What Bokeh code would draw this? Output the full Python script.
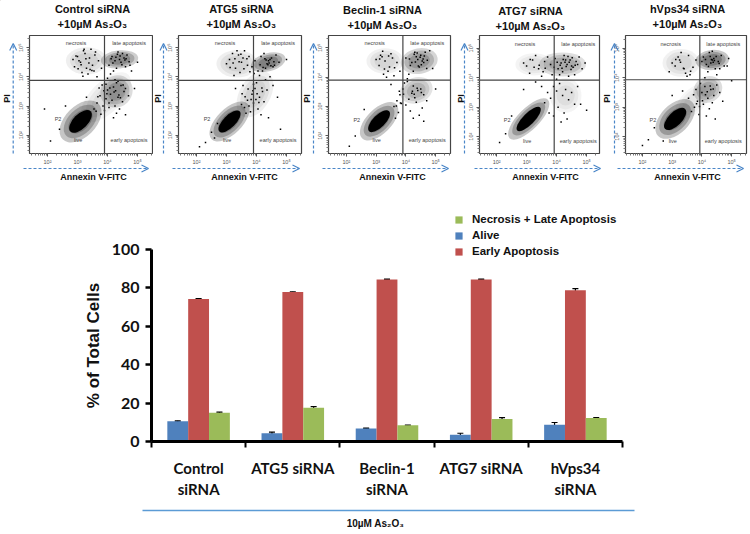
from bokeh.plotting import figure
from bokeh.layouts import row, column
from bokeh.models import (Label, Arrow, OpenHead, FixedTicker, Span, Range1d, ColumnDataSource,
                          Whisker, TeeHead, Legend, LegendItem)
from bokeh.embed import file_html
from bokeh.resources import INLINE
import math

# ---- bar chart data
groups = ["Control\nsiRNA", "ATG5 siRNA", "Beclin-1\nsiRNA", "ATG7 siRNA", "hVps34\nsiRNA"]
alive = [10.5, 4.3, 6.8, 3.5, 8.7]
early = [74.2, 77.8, 84.4, 84.4, 78.8]
necrosis = [15.0, 17.6, 8.4, 11.7, 12.2]
alive_err = [0.3, 0.6, 0.2, 0.8, 1.2]
early_err = [0.2, 0.2, 0.2, 0.2, 0.8]
necrosis_err = [0.3, 0.6, 0.2, 0.7, 0.3]
y_ticks = [0, 20, 40, 60, 80, 100]

# ---- flow panels: titles, dots read by eye (log10 units)
titles = ["Control siRNA", "ATG5 siRNA", "Beclin-1 siRNA", "ATG7 siRNA", "hVps34 siRNA"]
p1_x = [3.0,3.1,3.2,3.3,3.4,3.5,3.15,3.25,2.9,3.6,3.05,3.35,3.45,2.85,3.55,3.7,3.8,3.65,4.05,4.15,4.25,4.35,4.45,4.55,4.65,4.75,4.2,4.3,4.4,4.5,4.6,4.1,4.0,4.3,4.45,4.55,4.2,4.1,4.35,4.0,4.15,4.25,4.5,4.6,3.95,3.85,3.75,4.05,3.9,3.65,3.55,4.4,4.7,4.3,4.2,3.3,2.4,2.1,2.6,1.9,4.8,5.0,4.6,4.9,4.35,4.05,3.95,4.25,3.12,3.28,3.42,3.58,3.02,2.95,3.22,3.38,3.48,3.18,4.12,4.28,4.42,4.58,4.72,4.18,4.33,4.48,4.62,3.98,4.22,4.38,4.52,4.08,4.27,4.43,3.72,3.82,3.62,3.68,3.88,3.78]
p1_y = [4.7,4.5,4.9,4.3,4.65,4.4,4.15,4.8,4.35,4.85,4.55,4.1,4.95,4.6,4.2,4.55,4.3,4.0,4.4,4.7,4.55,4.85,4.5,4.65,4.75,4.4,4.2,4.3,4.6,4.8,4.35,4.1,3.95,3.8,3.7,3.5,3.65,3.4,3.3,3.55,3.2,3.0,3.15,3.6,3.25,3.0,3.35,3.1,2.85,3.1,2.9,2.9,3.35,2.75,2.6,3.3,2.2,1.8,3.0,2.9,4.2,4.5,2.7,3.6,3.85,2.95,3.75,3.9,4.42,4.62,4.25,4.75,4.28,4.72,4.95,4.48,4.22,4.02,4.62,4.67,4.72,4.58,4.52,4.48,4.78,4.42,4.62,3.42,3.48,3.38,3.72,3.62,3.52,3.28,3.62,3.72,2.82,3.32,3.52,2.72]
p2_x = [3.1,3.2,3.3,3.4,3.5,3.6,3.7,3.25,3.45,3.0,3.55,3.75,3.85,3.95,3.35,4.05,4.15,4.25,4.35,4.45,4.55,4.65,4.75,4.2,4.3,4.4,4.5,4.6,4.1,4.0,4.3,4.45,4.55,4.2,4.1,3.95,3.9,3.85,3.75,3.8,4.05,3.7,3.6,3.5,3.65,4.15,4.25,3.4,2.8,2.5,2.6,2.3,2.1,2.7,4.35,5.0,4.7,4.8,4.4,3.55,3.9,3.3,3.12,3.28,3.42,3.58,3.68,3.22,3.48,3.78,3.92,4.12,4.28,4.42,4.58,4.32,4.38,4.48,4.22,4.18,4.02,3.88,3.72,3.98,3.82,4.08,3.62,3.52]
p2_y = [4.6,4.8,4.3,4.75,4.5,4.9,4.4,4.05,4.15,4.45,4.65,4.7,4.35,4.55,4.9,4.2,4.7,4.8,4.45,4.6,4.35,4.75,4.5,4.2,4.3,4.55,4.65,4.4,4.05,3.8,3.9,4.0,3.7,3.5,3.3,3.6,3.1,3.4,3.0,2.8,2.9,3.2,2.95,3.05,2.75,2.7,3.15,2.65,2.2,2.1,1.9,1.75,1.6,2.4,3.55,4.6,3.3,2.2,2.6,3.7,3.75,3.6,4.32,4.62,4.52,4.28,4.62,4.48,4.78,4.18,4.12,4.42,4.62,4.48,4.52,4.58,4.42,4.38,4.32,3.62,3.42,3.52,3.58,3.22,3.22,3.12,3.32,3.42]
p3_x = [3.1,3.2,3.3,3.4,3.5,3.0,3.25,3.45,3.6,3.7,3.8,3.15,3.55,3.35,4.0,4.15,4.3,4.4,4.5,4.6,4.7,4.8,4.25,4.35,4.45,4.55,4.65,4.1,4.2,4.05,3.95,4.25,4.4,4.5,4.6,4.3,4.2,4.1,4.35,4.55,3.9,3.8,3.7,3.6,4.0,3.85,3.75,4.45,4.25,4.15,3.65,2.3,2.1,2.6,4.9,5.0,4.7,3.5,4.05,4.6,3.12,3.28,3.42,3.22,3.62,4.12,4.28,4.42,4.58,4.72,4.38,4.52,4.32,4.48,4.62,4.22,4.38,4.52,4.28,3.92,3.78,3.68,3.82]
p3_y = [4.4,4.7,4.55,4.2,4.8,4.6,4.1,4.35,4.05,4.5,4.2,4.75,4.65,4.0,4.65,4.4,4.85,4.6,4.75,4.5,4.3,4.9,4.2,4.7,4.35,4.55,4.85,4.1,4.5,3.95,3.8,3.7,3.55,3.6,3.4,3.3,3.45,3.25,3.15,2.95,3.6,3.4,3.2,3.0,3.05,3.1,2.8,2.7,2.6,2.85,2.6,2.0,1.65,2.9,4.3,3.6,3.2,3.75,3.85,2.5,4.62,4.28,4.72,4.88,4.32,4.62,4.78,4.38,4.62,4.58,4.82,4.42,4.52,4.68,4.72,3.52,3.62,3.48,3.42,3.42,3.52,3.02,3.12]
p4_x = [3.0,3.2,3.4,3.6,3.8,2.9,3.1,3.3,3.5,3.7,3.25,3.55,3.95,4.05,4.15,4.25,4.35,4.45,4.55,4.65,4.75,4.85,4.1,4.2,4.3,4.4,4.5,4.0,3.85,4.6,4.7,4.95,3.9,4.0,4.1,4.2,4.3,4.4,4.5,4.6,4.05,4.25,3.8,3.7,3.6,3.5,3.9,4.35,4.15,2.3,2.1,2.5,2.9,4.7,3.3,5.0,4.8,3.75,4.02,4.12,4.22,4.32,4.42,4.52,4.62,4.18,4.28,4.38,4.48,3.92,3.12,3.42,3.62]
p4_y = [4.4,4.6,4.3,4.55,4.45,4.5,4.15,4.75,4.05,4.7,4.35,4.2,4.65,4.3,4.5,4.75,4.45,4.6,4.35,4.55,4.7,4.3,4.1,4.2,4.6,4.05,4.4,3.95,4.1,4.1,4.45,4.5,3.7,3.55,3.8,3.4,3.6,3.25,3.5,3.1,3.0,2.8,3.3,3.5,3.15,3.7,2.7,2.6,2.5,2.1,1.8,2.7,3.6,3.7,3.85,2.9,3.1,2.8,4.52,4.42,4.62,4.38,4.52,4.68,4.42,4.32,4.52,4.72,4.28,4.35,4.62,4.42,4.32]
p5_x = [3.0,3.2,3.4,3.6,3.8,2.9,3.1,3.3,3.5,3.7,3.25,3.55,3.45,4.05,4.15,4.25,4.35,4.45,4.55,4.65,4.75,4.2,4.3,4.4,4.5,4.1,4.0,4.35,4.6,4.85,3.95,4.0,4.1,4.2,4.3,4.4,4.5,4.05,4.25,4.35,3.85,3.75,3.65,3.55,3.9,4.6,4.7,4.15,2.4,2.2,2.0,2.7,3.0,4.9,5.0,3.35,3.8,4.45,3.12,3.28,3.38,3.62,4.12,4.28,4.42,4.58,4.22,4.32,4.48,4.38,4.18,4.28,4.38,4.12,4.02,3.72,3.82,3.92]
p5_y = [4.5,4.7,4.3,4.1,4.6,4.2,4.4,4.85,4.05,4.35,4.6,4.75,4.15,4.7,4.45,4.85,4.6,4.3,4.55,4.75,4.4,4.2,4.5,4.65,4.1,4.0,4.55,4.9,4.3,4.4,3.8,3.5,3.7,3.3,3.6,3.4,3.75,3.1,2.95,3.15,3.2,3.0,2.85,3.3,2.75,3.5,3.2,2.7,2.3,1.9,1.7,1.85,3.4,4.65,3.9,3.55,3.6,2.6,4.62,4.52,4.32,4.22,4.62,4.72,4.58,4.48,4.38,4.62,4.72,4.52,3.52,3.72,3.62,3.42,3.22,3.42,3.12,3.02]
dots_x = [p1_x, p2_x, p3_x, p4_x, p5_x]
dots_y = [p1_y, p2_y, p3_y, p4_y, p5_y]
# clouds: centre x, centre y, long, short, angle deg, darkness
cores = [(3.1,2.47,0.95,0.5,45), (3.1,2.47,0.95,0.42,45), (3.1,2.5,0.95,0.42,45), (3.07,2.6,1.08,0.38,45), (3.1,2.6,0.95,0.46,45)]
clouds = [
    [(3.1,2.47,1.35,0.85,45,0.5),(4.4,4.6,1.0,0.5,5,0.42),(4.3,3.5,0.9,0.85,45,0.3),(3.3,4.55,1.1,0.75,0,0.14),(3.95,3.3,1.7,0.85,45,0.1)],
    [(3.1,2.47,1.35,0.7,45,0.5),(4.39,4.5,0.95,0.5,15,0.45),(3.35,4.45,1.1,0.75,0,0.14),(3.95,3.4,1.35,0.85,60,0.14)],
    [(3.1,2.5,1.3,0.68,45,0.5),(4.45,4.55,1.0,0.7,10,0.36),(4.35,3.55,0.9,0.7,20,0.24),(3.3,4.55,1.0,0.7,0,0.12)],
    [(3.07,2.6,1.45,0.58,45,0.5),(4.2,4.45,1.25,0.65,0,0.28),(3.25,4.45,1.0,0.6,0,0.1),(4.3,3.4,0.85,0.95,0,0.1)],
    [(3.1,2.6,1.3,0.78,45,0.5),(4.35,4.6,0.9,0.55,5,0.48),(4.2,3.6,0.8,0.7,30,0.3),(3.3,4.5,1.0,0.75,0,0.12),(3.7,3.2,1.2,0.65,45,0.08)],
]
cloud_layers = [1.25, 1.0, 0.72]
quad_x = [3.9, 3.9, 3.9, 3.92, 3.93]
quad_y = [3.88, 3.88, 3.9, 3.92, 3.93]
decades = [2, 3, 4, 5]
decade_labels = {2: "10\u00b2", 3: "10\u00b3", 4: "10\u2074", 5: "10\u2075"}
minor = [d + math.log10(m) for d in [1, 2, 3, 4, 5] for m in range(2, 10)]

BLUE = "#4a86c8"
INK = "#111111"
ABS = {"position": "absolute", "left": "0px", "top": "0px"}

def flow(i, cell, frame, xr, yr):
    L, R = cell
    W, H = R - L, 190
    p = figure(width=W, height=H, output_backend="svg", toolbar_location=None,
               x_range=Range1d(*xr), y_range=Range1d(*yr),
               min_border_left=frame[0] - L, min_border_right=R - frame[1],
               min_border_top=frame[2], min_border_bottom=H - frame[3])
    p.grid.visible = False
    p.outline_line_color = "#444444"
    p.outline_line_width = 1.2
    for ax, o in ((p.xaxis[0], "horizontal"), (p.yaxis[0], "vertical")):
        ax.ticker = FixedTicker(ticks=decades, minor_ticks=minor)
        ax.major_label_overrides = decade_labels
        ax.major_label_text_font_size = "5.5px"
        ax.major_label_text_color = "#555555"
        ax.major_label_standoff = 2
        ax.major_label_orientation = o
        ax.major_tick_out = 3; ax.major_tick_in = 0
        ax.minor_tick_out = 2; ax.minor_tick_in = 0
        ax.major_tick_line_color = "#555555"
        ax.minor_tick_line_color = "#777777"
        ax.axis_line_color = None
    for c in clouds[i]:
        for s in cloud_layers:
            p.ellipse(x=c[0], y=c[1], width=c[2] * s, height=c[3] * s, angle=math.radians(c[4]),
                      fill_color="black", fill_alpha=c[5] * 0.45, line_color=None)
    c = cores[i]
    p.ellipse(x=c[0], y=c[1], width=c[2], height=c[3], angle=math.radians(c[4]), fill_color="black", line_color=None)
    p.scatter(dots_x[i], dots_y[i], marker="square", size=1.5, color="black", line_color=None)
    p.add_layout(Span(location=quad_x[i], dimension="height", line_color="#444444", line_width=1.2))
    p.add_layout(Span(location=quad_y[i], dimension="width", line_color="#444444", line_width=1.2))
    for txt, x, y in (("necrosis", 2.95, 5.15), ("late apoptosis", 4.72, 5.15),
                      ("early apoptosis", 4.72, 1.85), ("live", 3.02, 1.85), ("P2", 2.35, 2.55)):
        p.add_layout(Label(x=x, y=y, text=txt, text_font_size="5.5px", text_color="#444444",
                           text_align="center", text_baseline="middle", text_font="Liberation Sans"))
    return p

P = [
    flow(0, (0, 153), (29, 152, 33, 155), (1.4, 5.5), (1.37, 5.42)),
    flow(1, (153, 303), (178, 301, 33, 155), (1.4, 5.5), (1.37, 5.42)),
    flow(2, (303, 453), (328, 450, 34, 155), (1.4, 5.5), (1.4, 5.42)),
    flow(3, (453, 602), (479, 599, 35, 154), (1.43, 5.43), (1.43, 5.43)),
    flow(4, (602, 750), (625, 746, 33, 153), (1.43, 5.5), (1.43, 5.43)),
]

# ---- bar chart
xs = [i + 0.5 for i in range(5)]
w = 0.2213
src = ColumnDataSource(dict(x=xs, x1=[v - w for v in xs], x3=[v + w for v in xs],
                            alive=alive, early=early, necrosis=necrosis,
                            au=[a + b for a, b in zip(alive, alive_err)], al=[a - b for a, b in zip(alive, alive_err)],
                            eu=[a + b for a, b in zip(early, early_err)], el=[a - b for a, b in zip(early, early_err)],
                            nu=[a + b for a, b in zip(necrosis, necrosis_err)], nl=[a - b for a, b in zip(necrosis, necrosis_err)]))
bar = figure(width=750, height=344, output_backend="svg", toolbar_location=None,
             x_range=Range1d(0, 5), y_range=Range1d(0, 100),
             min_border_left=151, min_border_right=128, min_border_top=59, min_border_bottom=93)
bar.grid.visible = False
bar.outline_line_color = None
bar.vbar(x="x1", top="alive", width=w, source=src, fill_color="#4f81bd", line_color=None)
bar.vbar(x="x", top="early", width=w, source=src, fill_color="#c0504d", line_color=None)
bar.vbar(x="x3", top="necrosis", width=w, source=src, fill_color="#9bbb59", line_color=None)
for xk, u, l in (("x1", "au", "al"), ("x", "eu", "el"), ("x3", "nu", "nl")):
    bar.add_layout(Whisker(base=xk, upper=u, lower=l, source=src, line_color="black", line_width=1.2,
                           upper_head=TeeHead(size=6, line_color="black", line_width=1.2),
                           lower_head=TeeHead(size=6, line_color="black", line_width=1.2)))
ya = bar.yaxis[0]
ya.ticker = FixedTicker(ticks=y_ticks, minor_ticks=[])
ya.axis_line_color = "black"; ya.axis_line_width = 3
ya.major_tick_line_color = "black"; ya.major_tick_line_width = 2.5
ya.major_tick_out = 6; ya.major_tick_in = 0
ya.major_label_text_font = "Lato"; ya.major_label_text_font_style = "bold"
ya.major_label_text_font_size = "16px"; ya.major_label_text_color = INK
ya.major_label_standoff = 6
ya.axis_label = "% of Total Cells"
ya.axis_label_text_font = "Liberation Sans"; ya.axis_label_text_font_style = "bold"
ya.axis_label_text_font_size = "17px"; ya.axis_label_text_color = INK
ya.axis_label_standoff = 6
xa = bar.xaxis[0]
xa.ticker = FixedTicker(ticks=xs, minor_ticks=[0, 1, 2, 3, 4, 5])
xa.major_label_overrides = dict(zip(xs, groups))
xa.axis_line_color = "black"; xa.axis_line_width = 3
xa.major_tick_line_color = None
xa.minor_tick_line_color = "black"; xa.minor_tick_line_width = 2
xa.minor_tick_out = 6; xa.minor_tick_in = 0
xa.major_label_text_font = "Lato"; xa.major_label_text_font_style = "bold"
xa.major_label_text_font_size = "15px"; xa.major_label_text_color = INK
xa.major_label_standoff = 11

page = column(row(*P, spacing=0), bar, spacing=0, styles=ABS)

# ---- transparent overlay for everything lying outside the plot frames, in page pixels
ov = figure(width=750, height=534, output_backend="svg", toolbar_location=None,
            x_range=Range1d(0, 750), y_range=Range1d(534, 0), min_border=0,
            x_axis_location=None, y_axis_location=None,
            background_fill_color=None, border_fill_color=None, outline_line_color=None, styles=ABS)
ov.grid.visible = False

def text(x, y, s, size, angle=0):
    ov.add_layout(Label(x=x, y=y, text=s, angle=angle, text_font="Liberation Sans", text_font_style="bold",
                        text_font_size=size, text_align="center", text_baseline="middle", text_color=INK))

def arrow(x0, y0, x1, y1):
    ov.add_layout(Arrow(end=OpenHead(size=7, line_color=BLUE, line_width=1.2), x_start=x0, y_start=y0, x_end=x1, y_end=y1,
                        line_color=BLUE, line_width=1.2, line_dash="3 2"))

title_xs = [92, 241, 382, 530, 687]
title_ys = [8, 8, 9, 10, 8]
arrow_xs = [12.7, 163, 313, 464, 614]
pi_xs = [6, 157, 306, 460, 606]
xarrow_starts = [23, 172, 322, 474, 617]
xarrow_ends = [148, 299, 448, 600, 743]
annexin_xs = [93, 244, 392, 545, 687]
for i in range(5):
    text(title_xs[i], title_ys[i], titles[i], "11px")
    text(title_xs[i], title_ys[i] + 15, "+10\u00b5M As\u2082O\u2083", "11px")
    text(annexin_xs[i], 176, "Annexin V-FITC", "9px")
    text(pi_xs[i], 98, "PI", "9px", math.pi / 2)
    arrow(arrow_xs[i], 153, arrow_xs[i], 43)
    arrow(xarrow_starts[i], 168, xarrow_ends[i], 168)

# legend proxies: bars drawn off the overlay's ranges, only their swatches show
leg = [ov.vbar(x=[-50], top=[-50], bottom=[-60], width=1, fill_color=c, line_color=None) for c in ("#9bbb59", "#4f81bd", "#c0504d")]
ov.add_layout(Legend(items=[LegendItem(label="Necrosis + Late Apoptosis", renderers=[leg[0]]),
                            LegendItem(label="Alive", renderers=[leg[1]]),
                            LegendItem(label="Early Apoptosis", renderers=[leg[2]])],
                     location=(454, 534 - 257), background_fill_alpha=0, border_line_color=None, padding=0, margin=0,
                     glyph_width=9, glyph_height=9, label_standoff=9, spacing=4, label_height=12,
                     label_text_font="Liberation Sans", label_text_font_style="bold", label_text_font_size="11.5px",
                     label_text_color=INK), "center")
ov.line(x=[142, 634], y=[510, 510], line_color="#5b9bd5", line_width=1.5)
text(375, 523, "10\u00b5M As\u2082O\u2083", "10px")

open("out.html", "w").write(file_html([page, ov], INLINE))
